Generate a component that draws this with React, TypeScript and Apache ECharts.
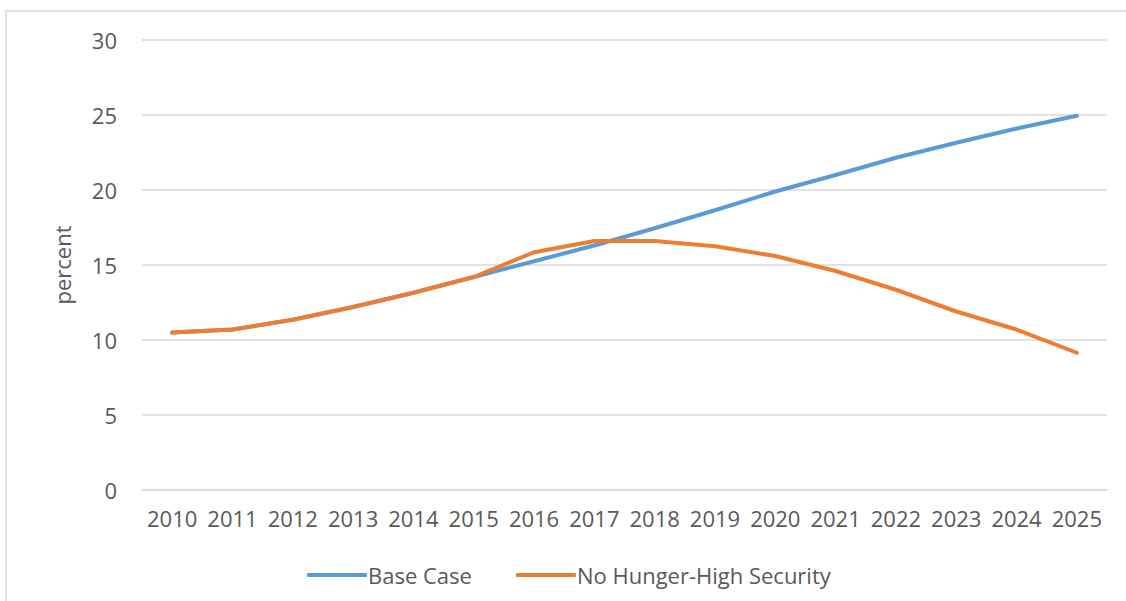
import React, { useEffect, useRef } from "react";
import * as echarts from "echarts";

// Years on the category axis
const years: string[] = [
  "2010", "2011", "2012", "2013", "2014", "2015", "2016", "2017",
  "2018", "2019", "2020", "2021", "2022", "2023", "2024", "2025",
];

// Share (percent) under each scenario
const baseCase: number[] = [
  10.5, 10.7, 11.35, 12.2, 13.15, 14.2, 15.25, 16.3,
  17.45, 18.65, 19.9, 21.0, 22.15, 23.15, 24.1, 24.95,
];
const noHungerHighSecurity: number[] = [
  10.5, 10.7, 11.35, 12.2, 13.15, 14.2, 15.85, 16.6,
  16.6, 16.25, 15.6, 14.6, 13.35, 11.9, 10.7, 9.15,
];

const seriesNames: string[] = ["Base Case", "No Hunger-High Security"];

const FONT = "'Open Sans', sans-serif";
const TEXT = "#595959";
const SIZE = 22;

export default function App() {
  const ref = useRef<HTMLDivElement>(null);

  useEffect(() => {
    if (!ref.current) return;
    const chart = echarts.init(ref.current, undefined, { renderer: "svg" });
    chart.setOption({
      animation: false,
      backgroundColor: "#ffffff",
      textStyle: { fontFamily: FONT },
      graphic: [
        {
          type: "rect",
          shape: { x: 6, y: 11, width: 1140, height: 620 },
          style: { fill: "none", stroke: "#d9d9d9", lineWidth: 1.5 },
          silent: true,
        },
      ],
      grid: { left: 142, right: 19, top: 40, bottom: 111 },
      legend: {
        left: 302,
        top: 559,
        itemWidth: 60,
        itemHeight: 4,
        itemGap: 44,
        icon: "roundRect",
        textStyle: { color: TEXT, fontSize: SIZE, fontFamily: FONT, padding: [0, 0, 0, -4] },
        data: seriesNames,
      },
      xAxis: {
        type: "category",
        data: years,
        boundaryGap: true,
        axisLine: { show: true, lineStyle: { color: "#d9d9d9", width: 1.5 } },
        axisTick: { show: false },
        axisLabel: { color: TEXT, fontSize: SIZE, fontFamily: FONT, margin: 17, interval: 0 },
      },
      yAxis: {
        type: "value",
        min: 0,
        max: 30,
        interval: 5,
        name: "percent",
        nameLocation: "middle",
        nameGap: 69,
        nameTextStyle: { color: TEXT, fontSize: SIZE, fontFamily: FONT },
        axisLine: { show: false },
        axisTick: { show: false },
        axisLabel: { color: TEXT, fontSize: SIZE, fontFamily: FONT, margin: 25 },
        splitLine: { lineStyle: { color: "#d9d9d9", width: 1.5 } },
      },
      series: [
        {
          name: seriesNames[0],
          type: "line",
          data: baseCase,
          symbol: "none",
          color: "#5B9BD5",
          lineStyle: { width: 4, color: "#5B9BD5", cap: "round", join: "round" },
        },
        {
          name: seriesNames[1],
          type: "line",
          data: noHungerHighSecurity,
          symbol: "none",
          color: "#ED7D31",
          lineStyle: { width: 4, color: "#ED7D31", cap: "round", join: "round" },
        },
      ],
    });
    return () => chart.dispose();
  }, []);

  return (
    <div
      ref={ref}
      style={{ position: "fixed", left: 0, top: 0, width: 1126, height: 601 }}
    />
  );
}
